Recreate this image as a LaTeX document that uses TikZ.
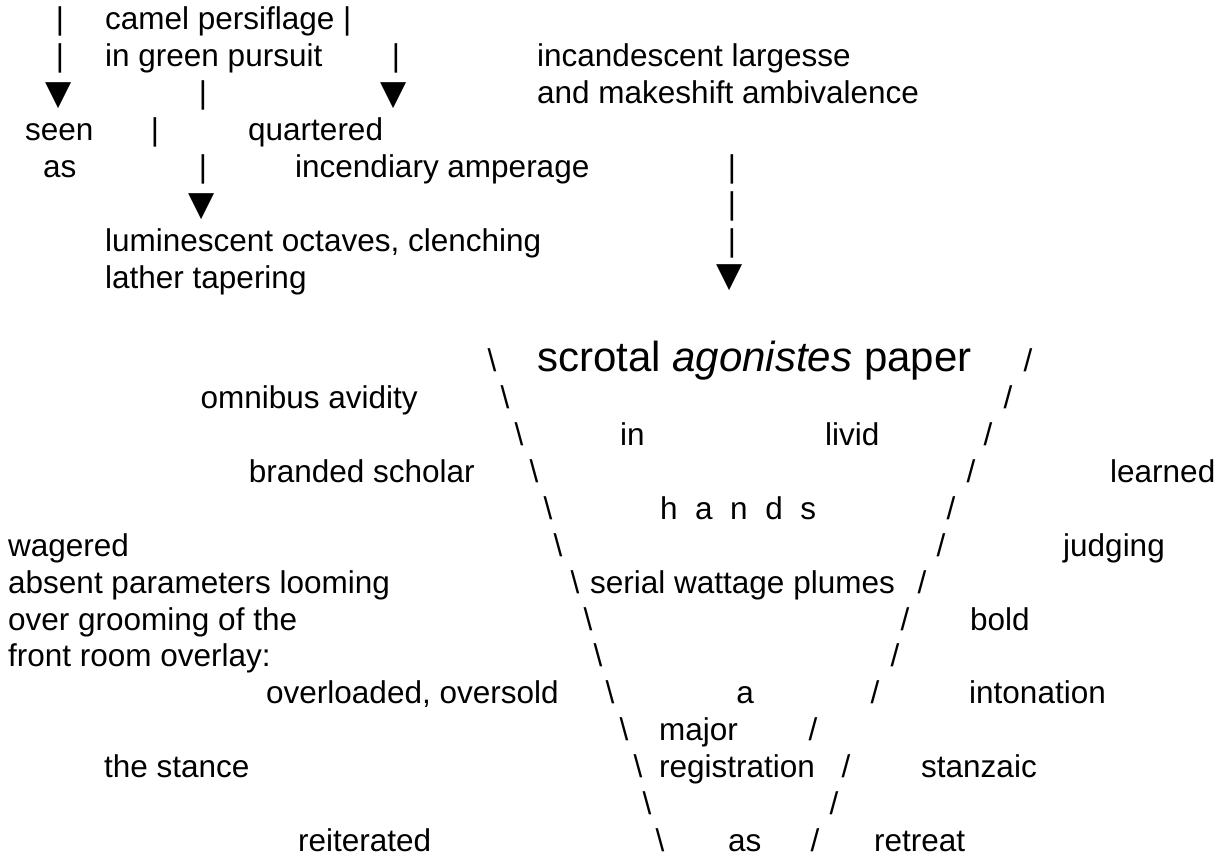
\documentclass[tikz,border=0pt]{standalone}
\usepackage{fontspec}
\setmainfont{Liberation Sans}
\newfontfamily\symfont{DejaVu Sans}
\begin{document}
\begin{tikzpicture}[x=1pt,y=-1pt,
  t/.style={anchor=base west, inner sep=0pt, font=\fontsize{31.5}{37}\selectfont},
  tc/.style={t, anchor=base},
  te/.style={t, anchor=base east},
  big/.style={t, font=\fontsize{42}{50}\selectfont},
  tri/.style={anchor=center, inner sep=0pt, font=\symfont\fontsize{34}{40}\selectfont}]
\useasboundingbox (0,0) rectangle (1220,858);
% ---- top block ----
\node[tc] (p1) at (60,30) {|};
\node[t] (camel) at (105,30) {camel persiflage |};
\node[tc] (p2) at (60,67) {|};
\node[t] (green) at (105,67) {in green pursuit};
\node[tc] (p3) at (396,67) {|};
\node[t] (incand) at (537,67) {incandescent largesse};
\node[tri] (a1) at (59,96) {▼};
\node[tc] (p4) at (203,104) {|};
\node[tri] (a2) at (394,96) {▼};
\node[t] (makeshift) at (537,104) {and makeshift ambivalence};
\node[t] (seen) at (25,141) {seen};
\node[tc] (p5) at (155,141) {|};
\node[t] (quart) at (248,141) {quartered};
\node[t] (as1) at (43,178) {as};
\node[tc] (p6) at (203,178) {|};
\node[t] (incend) at (295,178) {incendiary amperage};
\node[tc] (p7) at (732,178) {|};
\node[tri] (a3) at (202,207) {▼};
\node[tc] (p8) at (732,215) {|};
\node[t] (lumin) at (105,252) {luminescent octaves, clenching};
\node[tc] (p9) at (732,252) {|};
\node[t] (lather) at (105,289) {lather tapering};
\node[tri] (a4) at (730,278) {▼};
% ---- funnel ----
% row 1
\node[tc] (l1) at (492,371) {\textbackslash};
\node[big] (scrotal) at (537,371) {scrotal \textit{agonistes} paper};
\node[tc] (r1) at (1028,371) {/};
% row 2
\node[te] (omni) at (418,408) {omnibus avidity};
\node[tc] (l2) at (505,408) {\textbackslash};
\node[tc] (r2) at (1008,408) {/};
% row 3
\node[tc] (l3) at (519,445) {\textbackslash};
\node[t] (in) at (620,445) {in};
\node[t] (livid) at (825,445) {livid};
\node[tc] (r3) at (988,445) {/};
% row 4
\node[te] (branded) at (475,482) {branded scholar};
\node[tc] (l4) at (534,482) {\textbackslash};
\node[tc] (r4) at (971,482) {/};
\node[t] (learned) at (1110,482) {learned};
% row 5
\node[tc] (l5) at (548,519) {\textbackslash};
\node[t] (hands) at (660,519) {h\hspace{0.556em}a\hspace{0.556em}n\hspace{0.556em}d\hspace{0.556em}s};
\node[tc] (r5) at (951,519) {/};
% row 6
\node[t] (wagered) at (8,556) {wagered};
\node[tc] (l6) at (558,556) {\textbackslash};
\node[tc] (r6) at (941,556) {/};
\node[t] (judging) at (1063,556) {judging};
% row 7
\node[t] (absent) at (8,593) {absent parameters looming};
\node[tc] (l7) at (575,593) {\textbackslash};
\node[t] (serial) at (590,593) {serial wattage plumes};
\node[tc] (r7) at (922,593) {/};
% row 8
\node[t] (over) at (8,630) {over grooming of the};
\node[tc] (l8) at (588,630) {\textbackslash};
\node[tc] (r8) at (905,630) {/};
\node[t] (bold) at (970,630) {bold};
% row 9
\node[t] (front) at (8,666) {front room overlay:};
\node[tc] (l9) at (598,666) {\textbackslash};
\node[tc] (r9) at (895,666) {/};
% row 10
\node[t] (overl) at (266,703) {overloaded, oversold};
\node[tc] (l10) at (610,703) {\textbackslash};
\node[tc] (a) at (745,703) {a};
\node[tc] (r10) at (875,703) {/};
\node[t] (inton) at (969,703) {intonation};
% row 11
\node[tc] (l11) at (624,740) {\textbackslash};
\node[t] (major) at (659,740) {major};
\node[tc] (r11) at (813,740) {/};
% row 12
\node[t] (stance) at (104,777) {the stance};
\node[tc] (l12) at (638,777) {\textbackslash};
\node[t] (regis) at (659,777) {registration};
\node[tc] (r12) at (846,777) {/};
\node[t] (stanz) at (921,777) {stanzaic};
% row 13
\node[tc] (l13) at (647,814) {\textbackslash};
\node[tc] (r13) at (834,814) {/};
% row 14
\node[t] (reit) at (298,851) {reiterated};
\node[tc] (l14) at (660,851) {\textbackslash};
\node[t] (as2) at (728,851) {as};
\node[tc] (r14) at (815,851) {/};
\node[t] (retreat) at (874,851) {retreat};
\end{tikzpicture}
\end{document}
